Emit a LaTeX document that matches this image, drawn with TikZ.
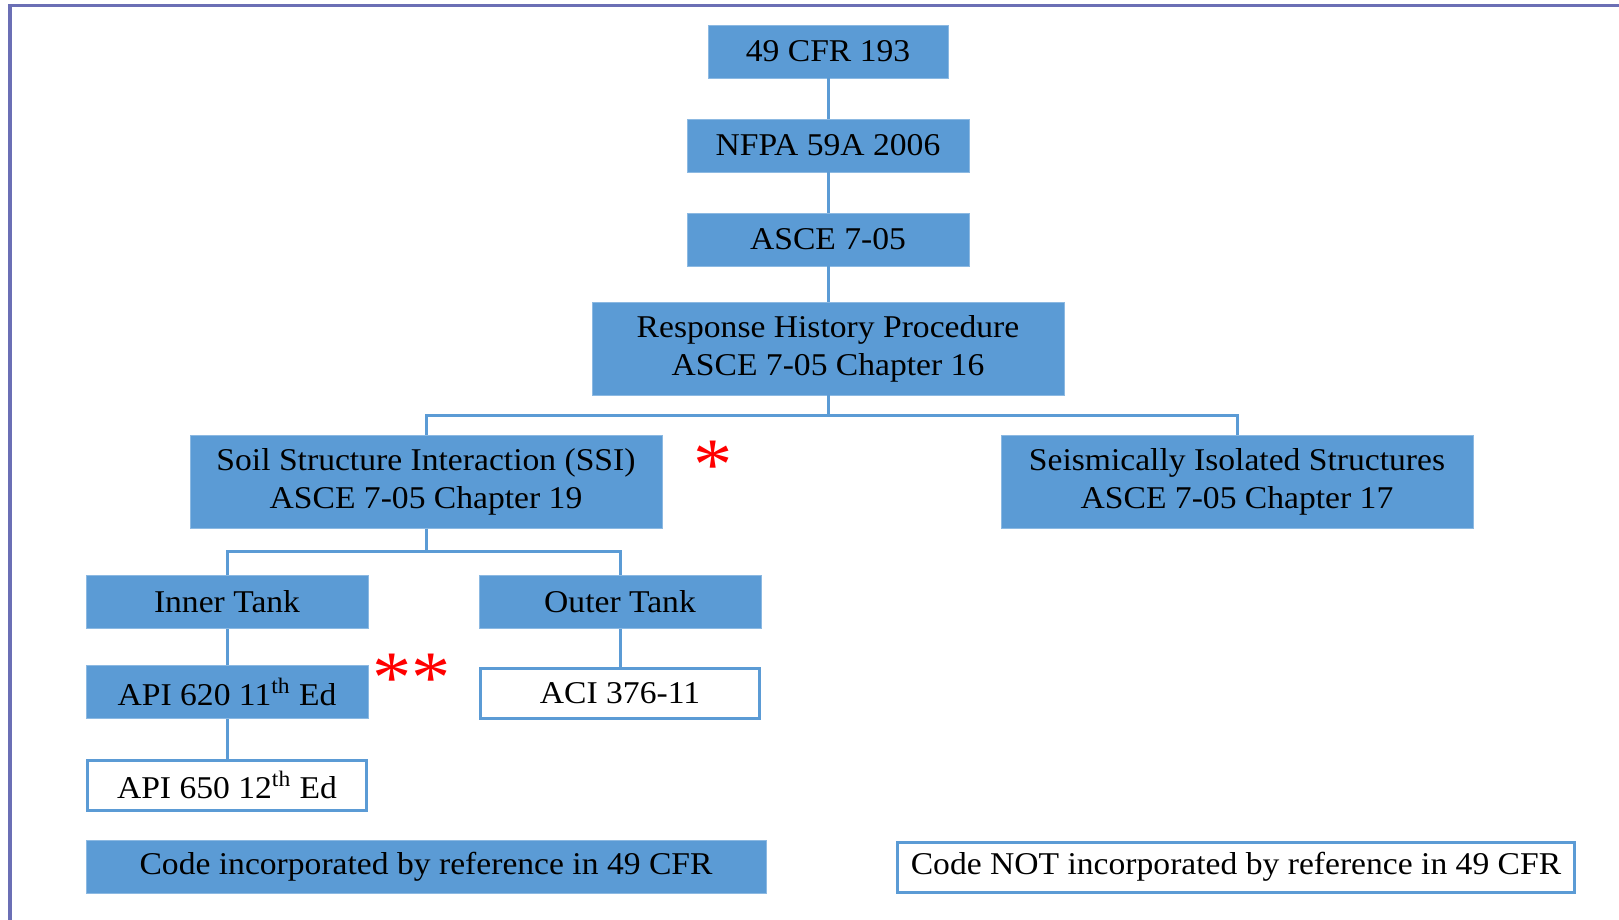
\documentclass[tikz,border=0pt]{standalone}
\usepackage{fontspec}
\setmainfont[FakeStretch=1.06]{Liberation Serif}
\definecolor{boxblue}{HTML}{5B9BD5}
\definecolor{framecol}{HTML}{6B6FB5}

\begin{document}
\begin{tikzpicture}[thick, node distance=47pt,
    every node/.style={font=\fontsize{15.85}{19}\selectfont},
    code box/.style={rectangle, fill=boxblue, draw=boxblue!70!white, line width=0.4pt, inner sep=0pt, align=center, minimum height=26.5pt, minimum width=141pt},
    ref box/.style={rectangle, fill=white, draw=boxblue, line width=1.5pt, inner sep=0pt, align=center, minimum height=25pt, minimum width=139.5pt},
    wide box/.style={code box, minimum width=236pt, minimum height=46.5pt},
    star mark/.style={text=red, font=\fontsize{37}{37}\selectfont},
    link/.style={draw=boxblue, line width=1.5pt}]

                \useasboundingbox (0,0) rectangle (809.5pt,-460pt);
                \draw[framecol, line width=1.75pt] (809.5pt,-2.75pt) -- (5pt,-2.75pt) -- (5pt,-460pt);

                \node[code box, minimum width=120pt] (cfr) at (414pt,-25.75pt) {49 CFR 193};
                \node[code box] (nfpa)[below of = cfr] {NFPA 59A 2006};
                \node[code box] (asce)[below of = nfpa] {ASCE 7-05};
                \node[wide box] (rhp)[below of = asce, yshift = -7.5pt] {Response History Procedure \\ ASCE 7-05 Chapter 16};

                \node[wide box] (ssi)[below of = rhp, xshift = -201pt, yshift = -19.75pt] {Soil Structure Interaction (SSI) \\ ASCE 7-05 Chapter 19};
                \node[wide box] (sis)[below of = rhp, xshift = 204.5pt, yshift = -19.75pt] {Seismically Isolated Structures \\ ASCE 7-05 Chapter 17};

                \node[code box] (inner)[below of = ssi, xshift = -99.5pt, yshift = -13pt] {Inner Tank};
                \node[code box] (outer)[right of = inner, xshift = 149.5pt] {Outer Tank};
                \node[code box] (api620)[below of = inner, yshift = 2pt] {API 620 11\textsuperscript{th} Ed};
                \node[ref box] (aci)[below of = outer, yshift = 1.5pt] {ACI 376-11};
                \node[ref box] (api650)[below of = api620, yshift = 0.5pt] {API 650 12\textsuperscript{th} Ed};

                \node[code box, minimum width=340pt] (coded)[below of = api650, xshift = 99.5pt, yshift = 6pt] {Code incorporated by reference in 49 CFR};
                \node[ref box, minimum width=338.5pt] (notcoded)[right of = coded, xshift = 358pt] {Code NOT incorporated by reference in 49 CFR};

                \node[star mark] (ast1) at ([xshift = 25.5pt, yshift = 8.5pt]ssi.east) {*};
                \node[star mark] (ast2) at ([xshift = 21.5pt, yshift = 7pt]api620.east) {**};

                \path[link]
                    (cfr) edge (nfpa)
                    (nfpa) edge (asce)
                    (asce) edge (rhp)
                    (inner) edge (api620)
                    (api620) edge (api650)
                    (outer) edge (aci)
                ;
                \draw[link] (rhp.south) -- ++(0,-10pt) -| (ssi.north);
                \draw[link] (rhp.south) -- ++(0,-10pt) -| (sis.north);
                \draw[link] (ssi.south) -- ++(0,-11.5pt) -| (inner.north);
                \draw[link] (ssi.south) -- ++(0,-11.5pt) -| (outer.north);
            \end{tikzpicture}
\end{document}
